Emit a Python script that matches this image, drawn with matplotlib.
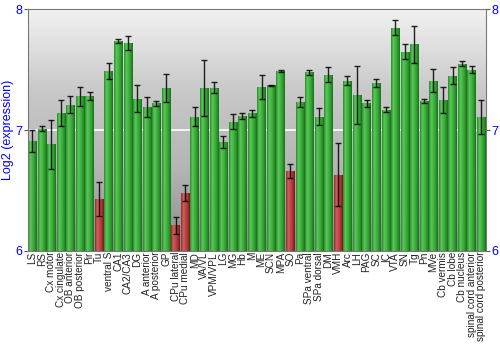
import numpy as np
import matplotlib.pyplot as plt
from matplotlib.colors import LinearSegmentedColormap

plt.rcParams['font.family'] = ['Liberation Sans', 'DejaVu Sans']

regions = ["LS", "RS", "Cx motor", "Cx cingulate", "OB anterior", "OB posterior", "Pir", "Tu",
           "ventral S", "CA1", "CA2/CA3", "DG", "A anterior", "A posterior", "GP", "CPu lateral",
           "CPu medial", "MD", "VA/VL", "VPM/VPL", "LG", "MG", "Hb", "M", "ME", "SCN", "MPA", "SO",
           "Pa", "SPa ventral", "SPa dorsal", "DM", "VMH", "Arc", "LH", "PAG", "SC", "IC", "VTA",
           "SN", "Tg", "Pn", "MVe", "Cb vermis", "Cb lobe", "Cb nucleus", "spinal cord anterior",
           "spinal cord posterior"]
expr = [6.91, 7.01, 6.88, 7.14, 7.21, 7.28, 7.28, 6.43,
        7.49, 7.74, 7.72, 7.26, 7.19, 7.22, 7.35, 6.21,
        6.48, 7.11, 7.35, 7.35, 6.90, 7.07, 7.12, 7.14, 7.36, 7.37, 7.49, 6.66,
        7.23, 7.48, 7.11, 7.46, 6.63, 7.41, 7.29, 7.22, 7.39, 7.17, 7.85,
        7.65, 7.71, 7.24, 7.41, 7.25, 7.45, 7.55, 7.50,
        7.11]
err = [0.09, 0.02, 0.20, 0.11, 0.07, 0.08, 0.035, 0.14,
       0.07, 0.017, 0.06, 0.11, 0.08, 0.02, 0.115, 0.07,
       0.065, 0.08, 0.23, 0.045, 0.05, 0.06, 0.025, 0.03, 0.10, 0.005, 0.005, 0.06,
       0.04, 0.02, 0.07, 0.06, 0.26, 0.035, 0.24, 0.03, 0.03, 0.018, 0.065,
       0.06, 0.15, 0.02, 0.095, 0.11, 0.07, 0.023, 0.028,
       0.14]
low = ["Tu", "CPu lateral", "CPu medial", "SO", "VMH"]

fig = plt.figure(figsize=(5, 3.5), dpi=100)
ax = fig.add_axes([0.055, 0.284, 0.917, 0.689])
x = np.arange(len(regions))
ax.set_xlim(-0.5, len(regions) - 0.5)
ax.set_ylim(6, 8)

# grey backdrop, light at the top
bg = np.linspace(0, 1, 256).reshape(-1, 1)
bg_cmap = LinearSegmentedColormap.from_list('bg', ['#8a8a8a', '#b4b4b4', '#c9c9c9', '#f2f2f2'])
ax.imshow(bg, cmap=bg_cmap, aspect='auto', extent=(-0.5, len(regions) - 0.5, 6, 8),
          origin='lower', zorder=0)
ax.axhline(7, color='white', lw=1.2, zorder=1)

greens = LinearSegmentedColormap.from_list('g', ['#2a8a2a', '#5ac85a', '#44b444', '#2f9c2f', '#1a6e1a'])
reds = LinearSegmentedColormap.from_list('r', ['#8a2a2a', '#d06060', '#c04848', '#a83636', '#6e1a1a'])
shade = np.linspace(0, 1, 64).reshape(1, -1)

bars = ax.bar(x, expr, width=0.88, bottom=0, color='none', edgecolor='none', zorder=2)
for i, b in enumerate(bars):
    cm = reds if regions[i] in low else greens
    im = ax.imshow(shade, cmap=cm, aspect='auto', zorder=2,
                   extent=(b.get_x(), b.get_x() + b.get_width(), 6, expr[i]))
    im.set_clip_path(b)

ax.errorbar(x, expr, yerr=err, fmt='none', ecolor='black', elinewidth=1,
            capsize=2.5, capthick=1, alpha=0.85, zorder=3)

ax.set_xticks(x)
ax.set_xticklabels(regions, rotation=90, fontsize=7.2, color='#222222')
ax.tick_params(axis='x', length=0, pad=1)
ax.set_yticks([6, 7, 8])
ax.tick_params(axis='y', labelsize=9, labelcolor='blue', right=True, labelright=True,
               length=3, color='#555555', pad=1)
ax.set_ylabel('Log2 (expression)', color='blue', fontsize=9, labelpad=1)
for s in ax.spines.values():
    s.set_color('#777777')
    s.set_linewidth(0.8)

fig.savefig('out.png', dpi=100)
